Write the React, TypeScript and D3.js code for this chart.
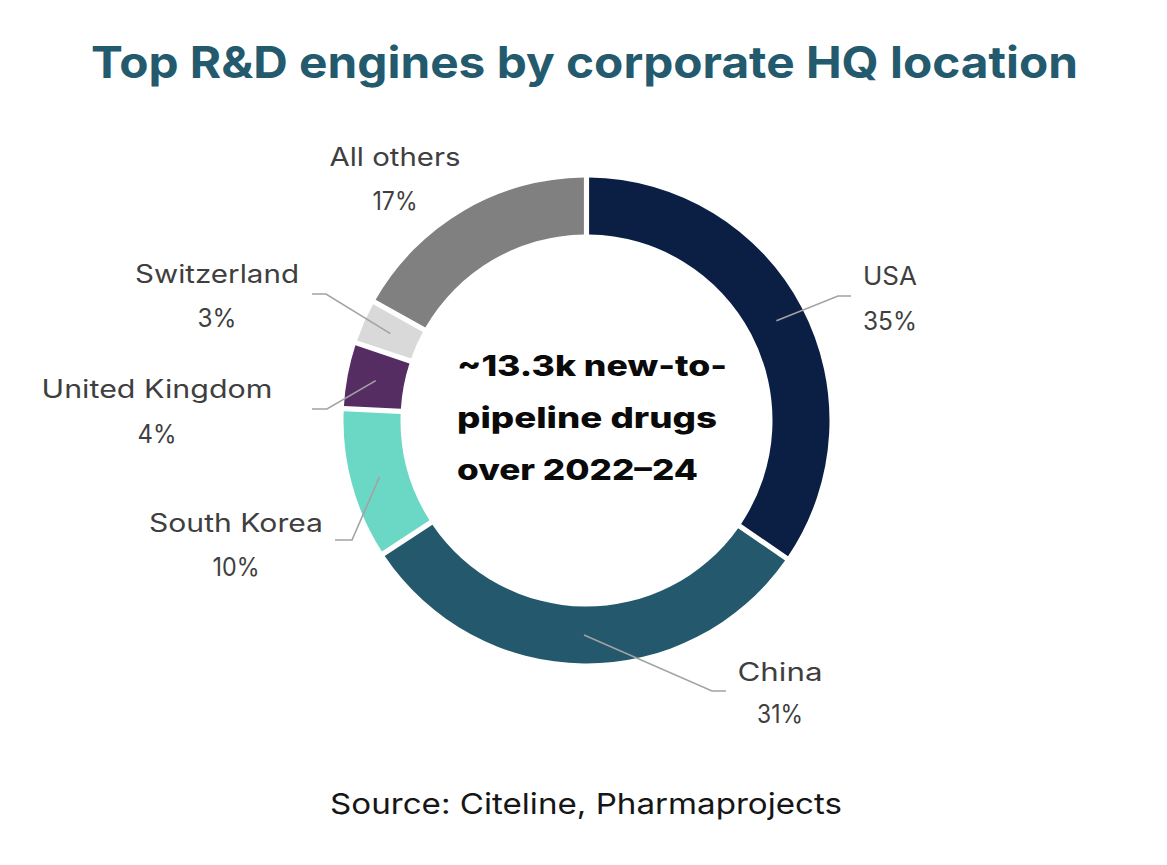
import React from "react";
import * as d3 from "d3";

// ---- data ----
const categories = ["USA", "China", "South Korea", "United Kingdom", "Switzerland", "All others"];
const shares = [34.9, 31.4, 9.9, 4.2, 2.7, 16.9];
const pctLabels = ["35%", "31%", "10%", "4%", "3%", "17%"];
const sliceColors = ["#0b1f45", "#24586c", "#6ad8c4", "#562d63", "#d9d9d9", "#808080"];

const titleText = "Top R&D engines by corporate HQ location";
const centerLines = ["~13.3k new-to-", "pipeline drugs", "over 2022\u201324"];
const sourceText = "Source: Citeline, Pharmaprojects";

// ---- layout (positions only) ----
const W = 1167;
const H = 865;
const CX = 586.5;
const CY = 420.5;
const R_OUT = 243;
const R_IN = 186;

type LabelLayout = {
  elbow: [number, number] | null;
  end: [number, number] | null;
  cx: number;
  y1: number;
  y2: number;
  w1: number;
  w2: number;
};

const labelLayout: LabelLayout[] = [
  { elbow: [838, 296], end: [851, 296], cx: 890, y1: 285, y2: 330, w1: 54, w2: 54 },
  { elbow: [712, 691], end: [726, 691], cx: 780, y1: 681, y2: 723, w1: 85, w2: 46 },
  { elbow: [352, 540], end: [335, 540], cx: 236, y1: 532, y2: 576, w1: 174, w2: 47 },
  { elbow: [327, 409], end: [312, 409], cx: 157, y1: 398, y2: 443, w1: 231, w2: 39 },
  { elbow: [326, 294], end: [312, 294], cx: 217, y1: 283, y2: 327, w1: 164, w2: 39 },
  { elbow: null, end: null, cx: 395, y1: 166, y2: 210, w1: 131, w2: 45 },
];

const centerLayout = { x: 457, y0: 376, dy: 52, widths: [270, 260, 241] };

const FONT = "Inter, 'Open Sans', sans-serif";

function FitText(props: {
  x: number;
  y: number;
  w: number;
  size: number;
  anchor?: "start" | "middle" | "end";
  weight?: number;
  fill: string;
  children: string;
}) {
  const { x, y, w, size, anchor = "start", weight = 400, fill, children } = props;
  return (
    <text
      x={x}
      y={y}
      textAnchor={anchor}
      fontFamily={FONT}
      fontSize={size}
      fontWeight={weight}
      fill={fill}
      textLength={w}
      lengthAdjust="spacingAndGlyphs"
    >
      {children}
    </text>
  );
}

export default function App() {
  const data = categories.map((c, i) => ({ name: c, value: shares[i], color: sliceColors[i], pct: pctLabels[i], layout: labelLayout[i] }));
  const pie = d3
    .pie<(typeof data)[number]>()
    .sort(null)
    .value((d) => d.value)
    .startAngle(0)
    .endAngle(2 * Math.PI)
    .padAngle(0.017);
  const arcs = pie(data);
  const arcGen = d3.arc<d3.PieArcDatum<(typeof data)[number]>>().innerRadius(R_IN).outerRadius(R_OUT);

  return (
    <svg
      width={W}
      height={H}
      viewBox={`0 0 ${W} ${H}`}
      style={{ position: "absolute", left: 0, top: 0, display: "block", background: "#ffffff" }}
    >
      <rect x={0} y={0} width={W} height={H} fill="#ffffff" />
      <FitText x={91} y={78} w={987} size={44} weight={700} fill="#245a6e">
        {titleText}
      </FitText>

      <g transform={`translate(${CX},${CY})`}>
        {arcs.map((a, i) => (
          <path key={i} d={arcGen(a) || ""} fill={a.data.color} />
        ))}
      </g>

      {arcs.map((a, i) => {
        const L = a.data.layout;
        if (!L.elbow || !L.end) return null;
        const c = arcGen.centroid(a);
        const pts: [number, number][] = [[CX + c[0], CY + c[1]], L.elbow, L.end];
        const line = d3.line()(pts) || "";
        return <path key={"l" + i} d={line} fill="none" stroke="#a3a3a3" strokeWidth={1.6} />;
      })}

      {arcs.map((a, i) => {
        const L = a.data.layout;
        return (
          <g key={"t" + i}>
            <FitText x={L.cx} y={L.y1} w={L.w1} size={25} anchor="middle" fill="#3f3f3f">
              {a.data.name}
            </FitText>
            <FitText x={L.cx} y={L.y2} w={L.w2} size={25} anchor="middle" fill="#3f3f3f">
              {a.data.pct}
            </FitText>
          </g>
        );
      })}

      {centerLines.map((t, i) => (
        <FitText
          key={"c" + i}
          x={centerLayout.x}
          y={centerLayout.y0 + i * centerLayout.dy}
          w={centerLayout.widths[i]}
          size={29}
          weight={800}
          fill="#0a0a0a"
        >
          {t}
        </FitText>
      ))}

      <FitText x={330} y={814} w={512} size={29} fill="#161616">
        {sourceText}
      </FitText>
    </svg>
  );
}
